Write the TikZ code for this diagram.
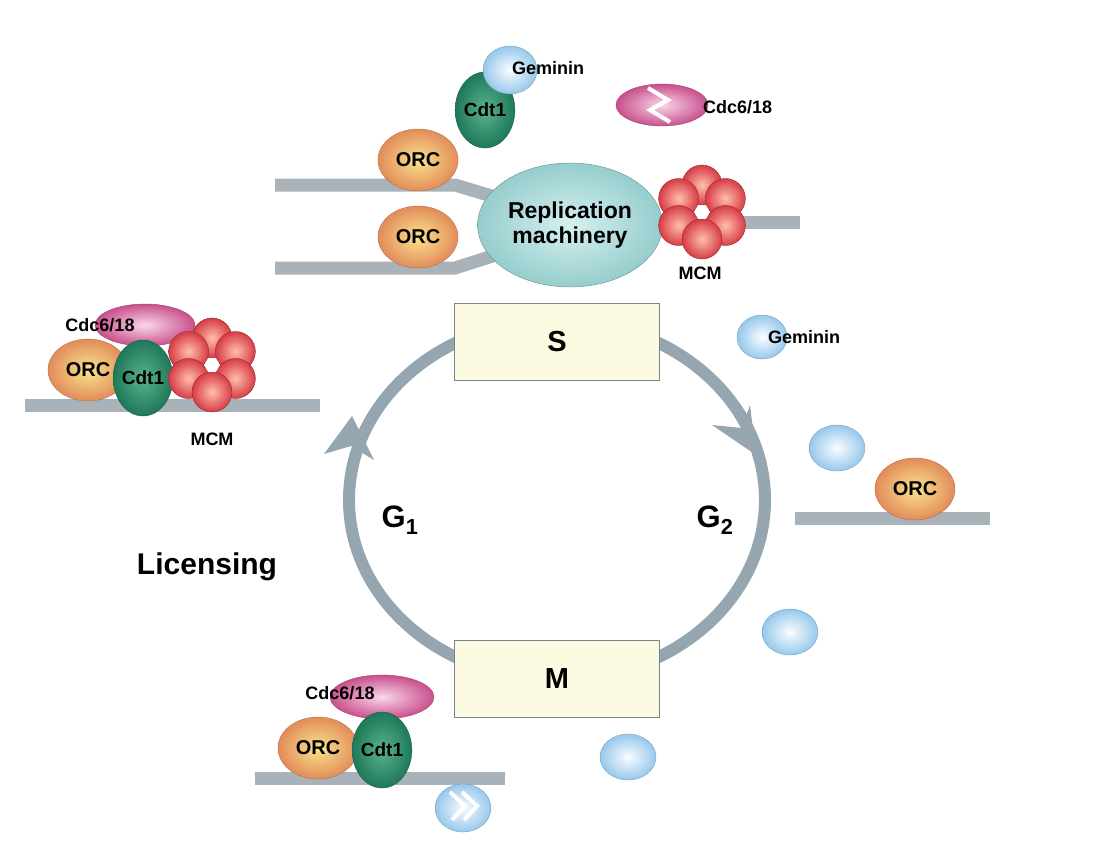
\documentclass[tikz,border=0pt]{standalone}
\usepackage{fontspec}
\setmainfont{Liberation Sans}
\usetikzlibrary{shapes.geometric,calc}
\definecolor{cyc}{RGB}{150,166,176}
\definecolor{dna}{RGB}{168,178,184}
\definecolor{boxf}{RGB}{252,250,224}
\definecolor{orcI}{RGB}{250,228,140}
\definecolor{orcO}{RGB}{226,140,90}
\definecolor{cdtI}{RGB}{90,180,140}
\definecolor{cdtO}{RGB}{30,120,90}
\definecolor{gemI}{RGB}{250,253,255}
\definecolor{gemO}{RGB}{150,200,235}
\definecolor{cdcI}{RGB}{250,215,235}
\definecolor{cdcO}{RGB}{200,80,140}
\definecolor{repI}{RGB}{215,240,240}
\definecolor{repO}{RGB}{150,205,205}
\definecolor{mcmI}{RGB}{255,190,170}
\definecolor{mcmO}{RGB}{215,60,70}
\tikzset{
 fnt/.style={font=\fontsize{#1}{#1}\selectfont\bfseries},
 orc/.style={ellipse,minimum width=80pt,minimum height=62pt,inner sep=0pt,draw=orcO!80!black,inner color=orcI,outer color=orcO,fnt=20},
 cdt/.style={ellipse,minimum width=54pt,minimum height=76pt,inner sep=0pt,draw=cdtO!80!black,inner color=cdtI,outer color=cdtO,fnt=19},
 gem/.style={ellipse,minimum width=50pt,minimum height=44pt,draw=gemO!80!black,inner color=gemI,outer color=gemO},
 cdc/.style={ellipse,minimum width=100pt,minimum height=42pt,draw=cdcO!80!black,inner color=cdcI,outer color=cdcO},
 ball/.style={circle,minimum size=40pt,inner sep=0pt,draw=mcmO!70!black,inner color=mcmI,outer color=mcmO},
 lbl/.style={fnt=18,inner sep=0pt},
 dnaL/.style={draw=dna,line width=13pt},
 phase/.style={draw=cyc!80!black,fill=boxf,minimum width=205pt,minimum height=77pt,fnt=29,line width=1pt},
 arrowhd/.style={fill=cyc,draw=none}
}
\newcommand{\mcmring}[2]{%
 \foreach \a in {90,30,150,-30,210,-90}{\node[ball] at ($(#1,#2)+(\a:27pt)$) {};}
 \fill[white] (#1,#2) circle (7pt);}
\begin{document}
\begin{tikzpicture}[x=1pt,y=-1pt]
\useasboundingbox (0,0) rectangle (1102,854);
% cycle
\draw[cyc,line width=12pt] (557,500) ellipse [x radius=208, y radius=180];
\fill[arrowhd] (756,455) -- (750,405) -- (742,428) -- (712,425) -- cycle;
\fill[arrowhd] (352,416) -- (374,460) -- (351,446) -- (324,454) -- cycle;
\node[phase] (S) at (557,342) {S};
\node[phase] (M) at (557,679) {M};
\node[fnt=31] (g1) at (400,520) {G\textsubscript{1}};
\node[fnt=31] (g2) at (715,520) {G\textsubscript{2}};
\node[fnt=30] (lic) at (207,567) {Licensing};
% top
\draw[dnaL] (275,185) -- (455,185) -- (505,200);
\draw[dnaL] (275,268) -- (455,268) -- (505,252);
\draw[dnaL] (735,222) -- (800,222);
\node[ellipse,minimum width=164pt,minimum height=124pt,draw=repO!70!black,inner color=repI,outer color=repO,fnt=23,align=center] (rep) at (570,225) {Replication\\[2pt]machinery};
\node[orc] (o1) at (418,160) {ORC};
\node[orc] (o2) at (418,237) {ORC};
\node[cdt] (c1) at (485,110) {Cdt1};
\node[gem,minimum width=54pt,minimum height=48pt] (gm1) at (510,70) {};
\node[lbl,anchor=west] (gt1) at (512,68) {Geminin};
\node[cdc,minimum width=92pt,minimum height=42pt] (d1) at (662,105) {};
\draw[white,line width=4pt] (648,88) -- (668,100) -- (650,110) -- (670,122);
\node[lbl,anchor=west] (dt1) at (703,107) {Cdc6/18};
\mcmring{702}{212}
\node[lbl] (m1) at (700,273) {MCM};
% left
\draw[dnaL] (25,405) -- (320,405);
\node[cdc] (d2) at (145,325) {};
\node[orc] (o3) at (88,370) {ORC};
\node[cdt] (c2) at (143,378) {Cdt1};
\node[lbl] (dt2) at (100,325) {Cdc6/18};
\mcmring{212}{365}
\node[lbl] (m2) at (212,439) {MCM};
% right
\node[gem] (gm2) at (762,337) {};
\node[lbl,anchor=west] (gt2) at (768,337) {Geminin};
\node[gem,minimum width=56pt,minimum height=46pt] (gm3) at (837,448) {};
\node[gem,minimum width=56pt,minimum height=46pt] (gm4) at (790,632) {};
\node[gem,minimum width=56pt,minimum height=46pt] (gm5) at (628,757) {};
\draw[dnaL] (795,518) -- (990,518);
\node[orc] (o4) at (915,489) {ORC};
% bottom
\draw[dnaL] (255,778) -- (505,778);
\node[cdc,minimum width=104pt,minimum height=44pt] (d3) at (382,697) {};
\node[lbl] (dt3) at (340,693) {Cdc6/18};
\node[orc] (o5) at (318,748) {ORC};
\node[cdt] (c3) at (382,750) {Cdt1};
\node[gem,minimum width=56pt,minimum height=48pt] (gm6) at (463,808) {};
\draw[white,line width=4pt] (450,792) -- (465,806) -- (452,820);
\draw[white,line width=4pt] (462,792) -- (477,806) -- (464,820);
\end{tikzpicture}
\end{document}
